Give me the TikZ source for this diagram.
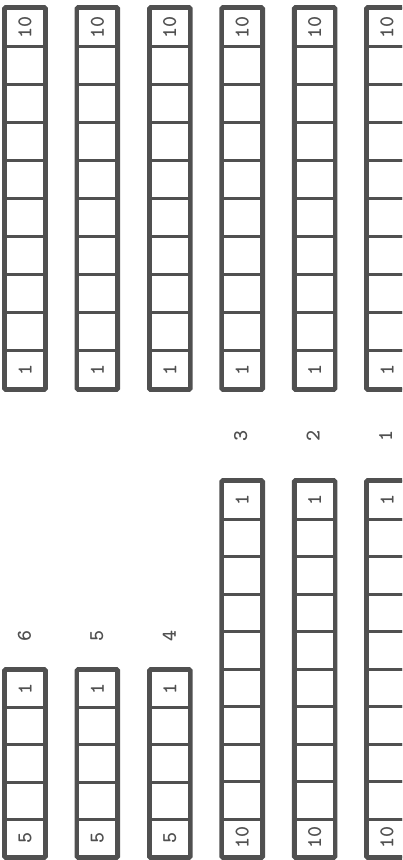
\documentclass[tikz,border=0pt]{standalone}
\usetikzlibrary{positioning}
\definecolor{ink}{RGB}{80,80,80}

\begin{document}
\begin{tikzpicture}[x=1pt,y=-1pt,
    cell/.style={draw=ink,line width=3pt,minimum width=39pt,inner sep=0pt,anchor=north west},
    frame/.style={draw=ink,line width=3.6pt,rounded corners=1.5pt},
    num/.style={font=\ttfamily\bfseries\fontsize{21}{21}\selectfont,text=ink,rotate=90,inner sep=0pt}
]
\clip (0,0) rectangle (402,860);
% ten-cell strips, upper row
\foreach \c in {0,...,5}{
  \foreach \k in {1,...,10}
    \node[cell,minimum height=38pt] (a\c-\k) at ({4+72.4*\c},{7+38*(\k-1)}) {};
  \draw[frame] (a\c-1.north west) rectangle (a\c-10.south east);
  \node[num] (a\c-top) at (a\c-1) {10};
  \node[num] (a\c-bot) at (a\c-10) {1};
}
% ten-cell strips, lower row
\foreach \c/\lab in {3/3,4/2,5/1}{
  \foreach \k in {1,...,10}
    \node[cell,minimum height=37.5pt] (b\c-\k) at ({4+72.4*\c},{480+37.5*(\k-1)}) {};
  \draw[frame] (b\c-1.north west) rectangle (b\c-10.south east);
  \node[num] (b\c-top) at (b\c-1) {1};
  \node[num] (b\c-bot) at (b\c-10) {10};
  \node[num] (lab\c) at ({23.5+72.4*\c},436) {\lab};
}
% five-cell strips
\foreach \c/\lab in {0/6,1/5,2/4}{
  \foreach \k in {1,...,5}
    \node[cell,minimum height=37.2pt] (s\c-\k) at ({4+72.4*\c},{669+37.2*(\k-1)}) {};
  \draw[frame] (s\c-1.north west) rectangle (s\c-5.south east);
  \node[num] (s\c-top) at (s\c-1) {1};
  \node[num] (s\c-bot) at (s\c-5) {5};
  \node[num] (lab\c) at ({24.5+72.4*\c},636) {\lab};
}
\end{tikzpicture}
\end{document}
